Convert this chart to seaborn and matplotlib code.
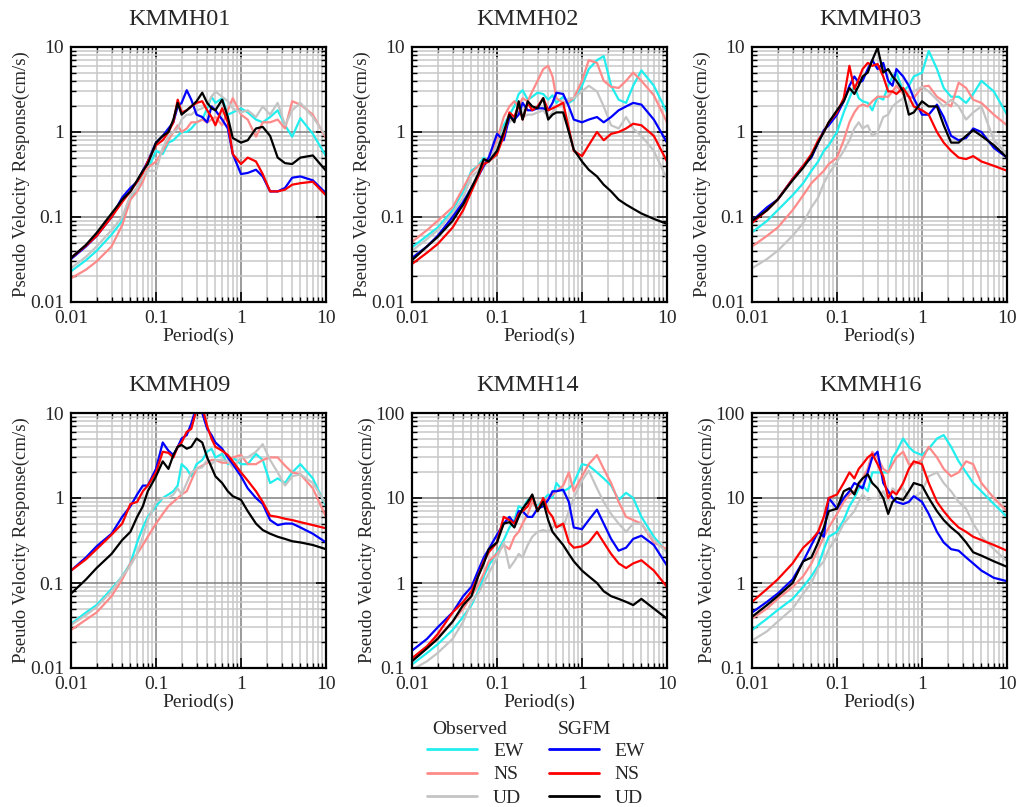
import pandas as pd
import matplotlib
matplotlib.use("Agg")
import matplotlib.pyplot as plt
import matplotlib.ticker as mticker
from matplotlib.lines import Line2D
import seaborn as sns

# periods (s) shared by every spectrum
periods = [0.01, 0.015, 0.02, 0.03, 0.04, 0.05, 0.06, 0.07, 0.08, 0.1, 0.12, 0.14,
           0.16, 0.18, 0.2, 0.23, 0.26, 0.3, 0.35, 0.4, 0.45, 0.5, 0.6, 0.7, 0.8,
           1.0, 1.2, 1.5, 1.8, 2.2, 2.7, 3.3, 4.0, 5.0, 7.0, 10.0]

stations = ["KMMH01", "KMMH02", "KMMH03", "KMMH09", "KMMH14", "KMMH16"]
series = ["Obs EW", "Obs NS", "Obs UD", "SGFM EW", "SGFM NS", "SGFM UD"]
colors = ["#22eeee", "#ff8a8a", "#c4c4c4", "#0000ff", "#ff0000", "#000000"]

# KMMH01
h01_obs_ew = [.023, .031, .04, .062, .09, .16, .22, .28, .36, .6, .55, .75, .8, .9, 1.0, 1.0, 1.1, 1.3,
              1.4, 1.9, 2.6, 2.2, 2.5, 1.6, 1.7, 1.9, 1.7, 1.4, 1.3, 1.5, 1.8, 1.2, .88, 1.45, .95, .52]
h01_obs_ns = [.019, .024, .03, .045, .08, .16, .2, .26, .38, .45, .6, .8, 1.0, 1.2, 1.0, 1.1, 1.3, 1.3,
              1.4, 1.3, 1.4, 1.5, 1.2, 1.8, 2.5, 1.6, 1.4, .88, 1.3, 1.3, 1.4, 1.1, 2.3, 2.1, 1.6, .85]
h01_obs_ud = [.025, .034, .045, .07, .1, .18, .22, .3, .35, .35, .65, .9, 1.0, 1.1, 1.4, 1.6, 1.6, 1.8,
              1.9, 2.1, 2.6, 3.0, 2.6, 2.3, 1.9, 1.7, 1.8, 1.5, 2.0, 1.6, 2.2, 1.2, 1.8, 2.2, 1.5, .9]
h01_sim_ew = [.032, .045, .06, .1, .17, .22, .26, .35, .45, .75, .9, 1.1, 1.3, 2.0, 2.2, 3.1, 2.4, 1.6,
              1.5, 1.3, 2.0, 1.8, 1.4, 1.1, .55, .32, .33, .36, .3, .2, .2, .22, .29, .3, .27, .19]
h01_sim_ns = [.033, .046, .06, .1, .15, .2, .26, .33, .45, .7, .8, 1.0, 1.3, 2.4, 1.7, 1.8, 2.0, 2.2,
              2.3, 1.8, 1.5, 1.2, 1.9, 1.3, .55, .42, .5, .45, .32, .2, .2, .21, .24, .25, .26, .18]
h01_sim_ud = [.033, .047, .065, .11, .16, .2, .27, .35, .42, .75, .9, 1.0, 1.4, 2.2, 1.6, 1.8, 2.0, 2.3,
              2.9, 2.2, 1.9, 1.8, 2.4, 1.5, .85, .75, .8, 1.1, 1.15, .9, .5, .43, .42, .5, .53, .35]

# KMMH02
h02_obs_ew = [.044, .06, .075, .12, .2, .35, .4, .5, .45, .7, 1.2, 1.6, 2.0, 2.8, 3.1, 2.4, 2.6, 2.9,
              2.8, 2.4, 2.7, 2.2, 2.6, 2.2, 2.4, 3.5, 5.5, 7.0, 7.8, 3.5, 2.4, 2.2, 3.5, 5.3, 3.5, 1.7]
h02_obs_ns = [.051, .07, .09, .13, .22, .33, .4, .45, .5, .8, 1.5, 2.0, 2.3, 2.0, 2.5, 2.3, 3.0, 4.0,
              5.5, 6.0, 4.5, 2.5, 2.2, 2.3, 2.5, 4.0, 7.0, 6.5, 4.0, 3.4, 3.3, 4.0, 5.0, 4.0, 2.7, 1.3]
h02_obs_ud = [.04, .055, .07, .11, .17, .3, .35, .4, .45, .7, 1.1, 1.3, 1.5, 1.8, 1.5, 1.6, 1.6, 1.7,
              1.8, 1.5, 1.7, 2.0, 2.0, 2.5, 2.5, 3.0, 3.5, 3.0, 2.0, 1.2, 1.1, 1.5, 1.1, .9, .6, .28]
h02_sim_ew = [.033, .045, .06, .1, .15, .22, .3, .4, .5, .95, .8, 1.5, 1.4, 1.6, 2.2, 1.8, 1.8, 1.9,
              1.9, 1.8, 2.2, 2.9, 2.8, 2.0, 1.4, 1.3, 1.4, 1.5, 1.3, 1.5, 1.8, 2.0, 2.2, 2.1, 1.4, .75]
h02_sim_ns = [.028, .038, .048, .075, .12, .2, .3, .42, .45, .55, .9, 1.7, 1.5, 2.1, 1.4, 2.2, 1.8, 2.0,
              2.5, 1.8, 1.9, 2.0, 2.2, 1.1, .6, .52, .7, 1.0, .8, .95, 1.0, 1.1, 1.25, 1.2, .9, .45]
h02_sim_ud = [.031, .045, .058, .09, .14, .22, .32, .48, .45, .6, 1.0, 1.6, 1.3, 2.3, 1.4, 2.3, 2.0, 1.9,
              2.5, 1.4, 1.6, 1.7, 1.7, 1.0, .62, .45, .36, .3, .24, .2, .16, .14, .125, .11, .095, .083]

# KMMH03
h03_obs_ew = [.066, .09, .12, .18, .25, .35, .45, .6, .7, 1.0, 1.7, 2.5, 3.5, 2.5, 2.3, 2.2, 1.8, 2.6,
              2.4, 3.5, 4.5, 5.0, 3.0, 3.5, 4.5, 5.0, 9.0, 5.5, 3.3, 2.6, 2.6, 2.2, 2.8, 4.0, 3.0, 1.6]
h03_obs_ns = [.045, .06, .075, .12, .18, .25, .3, .35, .42, .5, .8, 1.3, 1.7, 2.0, 2.1, 2.0, 2.3, 2.6,
              2.6, 2.6, 3.0, 3.5, 2.8, 2.6, 2.5, 3.4, 3.5, 2.6, 2.3, 2.0, 3.8, 3.3, 2.4, 2.2, 1.6, 1.2]
h03_obs_ud = [.025, .032, .04, .06, .085, .13, .17, .25, .32, .45, .6, .8, 1.1, 1.3, 1.1, 1.2, .9, 1.0,
              1.5, 1.6, 2.0, 2.2, 2.5, 3.0, 3.0, 3.4, 3.0, 2.4, 2.0, 2.4, 2.0, 1.4, 1.7, 2.0, .8, .55]
h03_sim_ew = [.09, .13, .16, .28, .4, .5, .75, 1.05, 1.2, 1.6, 2.3, 3.5, 4.5, 3.8, 4.0, 5.5, 7.0, 5.5,
              6.5, 4.0, 3.5, 5.5, 4.5, 3.5, 2.5, 1.6, 1.6, 2.1, 1.5, .9, .8, .85, 1.1, 1.0, .65, .5]
h03_sim_ns = [.085, .12, .16, .28, .4, .55, .8, 1.0, 1.3, 1.7, 2.5, 6.0, 3.2, 4.2, 5.5, 6.5, 6.0, 6.3,
              4.5, 3.0, 3.0, 2.8, 3.3, 2.6, 2.0, 1.8, 1.6, 1.0, .75, .6, .5, .48, .52, .45, .4, .35]
h03_sim_ud = [.09, .12, .16, .27, .38, .52, .75, 1.0, 1.3, 1.8, 2.3, 3.3, 2.8, 3.5, 4.5, 5.0, 7.0, 9.8,
              5.0, 5.5, 4.5, 4.0, 3.0, 1.6, 1.7, 2.3, 2.0, 2.0, 1.2, .75, .75, .9, 1.05, .9, .7, .5]

# KMMH09
h09_obs_ew = [.033, .045, .055, .085, .12, .17, .3, .45, .6, .8, 1.0, 1.1, 1.2, 1.4, 2.5, 2.2, 1.8, 2.5,
              2.8, 3.5, 3.8, 3.0, 3.3, 2.5, 3.0, 2.5, 2.5, 3.3, 2.8, 1.5, 1.7, 1.5, 2.0, 2.5, 1.7, .8]
h09_obs_ns = [.028, .037, .045, .07, .11, .17, .22, .28, .35, .5, .65, .8, .9, 1.0, 1.1, 1.2, 1.6, 2.2,
              2.4, 2.6, 2.8, 2.8, 2.6, 2.6, 3.0, 3.2, 2.5, 2.5, 2.8, 3.0, 3.0, 2.4, 2.0, 1.9, 1.3, .6]
h09_obs_ud = [.032, .042, .052, .08, .12, .16, .22, .35, .55, .9, 1.0, 1.0, 1.1, 1.3, 1.1, 1.5, 2.0, 2.2,
              2.3, 2.8, 2.5, 2.8, 2.8, 2.7, 2.3, 3.0, 3.0, 3.5, 4.3, 2.8, 2.0, 1.4, 1.8, 1.9, 1.5, .85]
h09_sim_ew = [.14, .2, .27, .38, .6, .8, 1.1, 1.4, 1.4, 2.2, 4.5, 3.6, 3.2, 4.0, 5.0, 5.5, 7.5, 12,
              10, 6.5, 5.5, 4.5, 3.8, 3.0, 2.5, 1.8, 1.3, 1.0, .85, .55, .48, .5, .5, .45, .38, .3]
h09_sim_ns = [.14, .19, .25, .37, .5, .85, .9, 1.2, 1.4, 2.0, 3.5, 3.4, 3.0, 4.0, 4.5, 6.0, 6.5, 11,
              12, 7.0, 5.0, 4.0, 3.6, 3.2, 2.7, 2.0, 1.6, 1.2, .9, .62, .6, .57, .55, .52, .48, .44]
h09_sim_ud = [.075, .11, .15, .22, .32, .4, .6, .8, 1.2, 1.8, 2.7, 2.2, 3.2, 4.0, 4.2, 3.8, 4.0, 5.0,
              4.5, 3.0, 2.3, 1.8, 1.5, 1.2, 1.05, .95, .7, .5, .42, .38, .35, .33, .31, .3, .28, .25]

# KMMH14
h14_obs_ew = [.11, .15, .19, .28, .4, .55, .8, 1.2, 1.6, 2.3, 3.2, 4.5, 5.5, 8.0, 7.5, 9.5, 9.0, 8.0,
              9.5, 11, 10, 15, 12, 13, 15, 25, 24, 20, 17, 14, 9.5, 11.5, 10, 6.0, 3.5, 2.3]
h14_obs_ns = [.13, .18, .23, .35, .5, .7, .95, 1.3, 1.8, 2.2, 2.8, 2.5, 3.5, 4.0, 5.0, 6.5, 9.0, 7.5,
              9.0, 10, 11, 12, 14, 20, 12, 18, 25, 32, 22, 15, 9, 6, 5.5, 5.0, 3.0, 2.5]
h14_obs_ud = [.095, .12, .15, .22, .35, .6, .75, 1.0, 1.3, 2.0, 3.0, 1.5, 1.8, 2.2, 2.0, 2.8, 3.5, 4.0,
              4.2, 4.0, 4.5, 5.0, 4.5, 7.0, 10, 16, 21, 13, 9, 6.5, 5.0, 4.0, 5.0, 5.0, 3.2, 2.3]
h14_sim_ew = [.16, .22, .3, .45, .7, .9, 1.4, 2.0, 2.5, 3.7, 5.0, 6.0, 5.0, 7.0, 7.0, 6.0, 6.0, 7.5,
              8.0, 9.5, 12, 12, 12.5, 9.0, 4.5, 4.3, 5.5, 7.3, 5.0, 3.3, 2.4, 2.6, 3.3, 3.6, 2.8, 1.6]
h14_sim_ns = [.13, .18, .25, .45, .6, .8, 1.2, 1.8, 2.3, 3.0, 6.0, 5.5, 5.0, 6.5, 7.0, 8.0, 10.5, 7.0,
              10, 7.0, 6.0, 4.5, 5.0, 3.0, 2.6, 2.7, 3.0, 4.0, 3.0, 2.2, 1.7, 1.5, 1.7, 1.85, 1.4, .9]
h14_sim_ud = [.12, .17, .22, .35, .55, .7, 1.2, 1.7, 2.5, 3.0, 5.0, 5.2, 4.5, 6.0, 7.5, 9.0, 11, 7.0,
              9.0, 5.5, 4.0, 3.5, 2.8, 2.2, 1.8, 1.4, 1.2, 1.0, .8, .7, .65, .6, .55, .65, .5, .38]

# KMMH16
h16_obs_ew = [.28, .38, .48, .65, .9, 1.2, 1.6, 2.5, 3.5, 4.0, 5.5, 8.0, 10, 13, 14, 12, 20, 20,
              20, 20, 30, 35, 50, 40, 35, 32, 38, 50, 55, 40, 27, 20, 15, 12, 8.5, 6.0]
h16_obs_ns = [.38, .5, .65, .9, 1.2, 1.7, 2.5, 3.5, 4.5, 6.5, 9, 11, 12, 14, 17, 22, 35, 30,
              22, 20, 25, 30, 35, 25, 25, 28, 40, 30, 22, 18, 20, 27, 25, 15, 10, 7.0]
h16_obs_ud = [.21, .27, .35, .5, .75, 1.0, 1.5, 1.8, 2.5, 3.5, 5.0, 6.0, 7.0, 9.0, 11, 9.5, 10, 10,
              12, 9.0, 13, 12, 13, 10, 10, 12, 18, 20, 15, 12, 9, 7.5, 5.0, 3.5, 2.5, 1.8]
h16_sim_ew = [.45, .6, .75, 1.1, 1.8, 2.8, 4.0, 3.5, 10, 7.5, 10, 12, 15, 14, 13, 20, 30, 35,
              15, 12, 10, 9.0, 8.5, 9.0, 10.5, 9.0, 6.5, 4.0, 3.0, 2.5, 2.4, 2.0, 1.7, 1.4, 1.15, 1.05]
h16_sim_ns = [.6, .85, 1.1, 1.7, 2.6, 3.2, 4.0, 6.0, 10, 11, 15, 20, 17, 22, 25, 30, 33, 25,
              18, 10, 12, 11, 15, 22, 27, 25, 15, 9, 7, 5.5, 4.5, 4.0, 3.5, 3.2, 2.8, 2.4]
h16_sim_ud = [.4, .55, .7, 1.0, 1.8, 2.0, 3.0, 4.5, 7.0, 7.5, 12, 13, 11, 15, 17, 19, 15, 13,
              10, 6.5, 9, 10, 9.5, 12, 15, 14, 10, 7, 5.5, 4.5, 3.8, 3.0, 2.3, 2.1, 1.8, 1.55]

spectra = {
    "KMMH01": [h01_obs_ew, h01_obs_ns, h01_obs_ud, h01_sim_ew, h01_sim_ns, h01_sim_ud],
    "KMMH02": [h02_obs_ew, h02_obs_ns, h02_obs_ud, h02_sim_ew, h02_sim_ns, h02_sim_ud],
    "KMMH03": [h03_obs_ew, h03_obs_ns, h03_obs_ud, h03_sim_ew, h03_sim_ns, h03_sim_ud],
    "KMMH09": [h09_obs_ew, h09_obs_ns, h09_obs_ud, h09_sim_ew, h09_sim_ns, h09_sim_ud],
    "KMMH14": [h14_obs_ew, h14_obs_ns, h14_obs_ud, h14_sim_ew, h14_sim_ns, h14_sim_ud],
    "KMMH16": [h16_obs_ew, h16_obs_ns, h16_obs_ud, h16_sim_ew, h16_sim_ns, h16_sim_ud],
}
ylims = {"KMMH01": (0.01, 10), "KMMH02": (0.01, 10), "KMMH03": (0.01, 10),
         "KMMH09": (0.01, 10), "KMMH14": (0.1, 100), "KMMH16": (0.1, 100)}

sns.set_theme(style="ticks")
plt.rcParams['font.family'] = ['Liberation Serif', 'DejaVu Serif']

fig = plt.figure(figsize=(10.16, 8.07), dpi=100)

lefts = [71, 412, 752]
tops = [47, 413]
title_x = [0.425, 0.455, 0.465]
W = H = 255

for i, st in enumerate(stations):
    r, c = divmod(i, 3)
    ax = fig.add_axes([lefts[c] / 1016, 1 - (tops[r] + H) / 807, W / 1016, H / 807])

    rows = []
    for name, vals in zip(series, spectra[st]):
        for p, v in zip(periods, vals):
            rows.append({"period": p, "psv": v, "series": name})
    df = pd.DataFrame(rows)

    ax.set_xscale("log")
    ax.set_yscale("log")
    sns.lineplot(data=df, x="period", y="psv", hue="series", hue_order=series,
                 palette=colors, estimator=None, linewidth=1.6, legend=False, ax=ax)

    ax.set_xlim(0.01, 10)
    ax.set_ylim(*ylims[st])
    ax.xaxis.set_major_formatter(mticker.FuncFormatter(lambda v, p: f"{v:g}"))
    ax.yaxis.set_major_formatter(mticker.FuncFormatter(lambda v, p: f"{v:g}"))
    ax.xaxis.set_minor_formatter(mticker.NullFormatter())
    ax.yaxis.set_minor_formatter(mticker.NullFormatter())

    ax.grid(which="minor", color="#c8c8c8", linewidth=1.1)
    ax.grid(which="major", color="#808080", linewidth=1.1)
    ax.set_axisbelow(True)
    ax.tick_params(which="both", direction="in", top=True, right=True,
                   labelsize=14, color="black")
    ax.tick_params(which="major", length=7, width=1.2)
    ax.tick_params(which="minor", length=3.5, width=1.0)
    ax.tick_params(axis="x", which="major", pad=6)
    ax.tick_params(axis="y", which="major", pad=5)
    for s in ax.spines.values():
        s.set_linewidth(1.6)
        s.set_color("black")

    ax.set_title(st, fontsize=17.5, pad=16, x=title_x[c])
    ax.set_xlabel("Period(s)", fontsize=14, labelpad=0)
    ax.set_ylabel("Pseudo Velocity Response(cm/s)", fontsize=13.5, labelpad=0)

handles = [Line2D([], [], color=col, lw=2) for col in colors]
labels = ["EW", "NS", "UD", "EW", "NS", "UD"]
fig.legend(handles, labels, ncol=2, loc="upper center",
           bbox_to_anchor=(536 / 1016, 1 - 742 / 807), frameon=False,
           fontsize=14, handlelength=2.6, handletextpad=0.8, columnspacing=1.3,
           labelspacing=0.32, borderpad=0, borderaxespad=0)
fig.text(432 / 1016, 1 - 730 / 807, "Observed", fontsize=14, va="center", ha="left")
fig.text(558 / 1016, 1 - 730 / 807, "SGFM", fontsize=14, va="center", ha="left")

fig.savefig("out.png", dpi=100)
